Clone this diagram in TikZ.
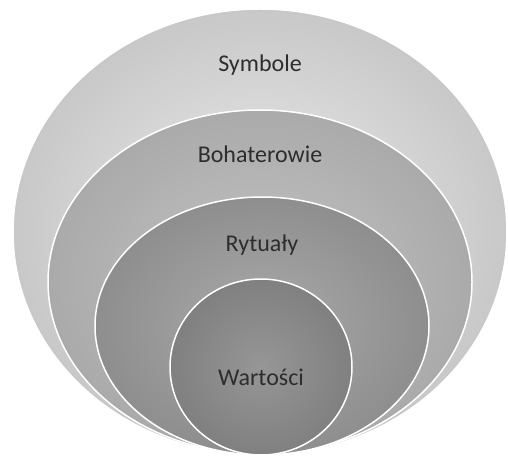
\documentclass[tikz,border=0pt]{standalone}
\usepackage{fontspec}
\setmainfont{Carlito}
\usetikzlibrary{shapes.geometric, positioning}
\definecolor{ringa}{RGB}{236, 236, 236}
\definecolor{ringadark}{RGB}{200, 200, 200}
\definecolor{ringb}{RGB}{196, 196, 196}
\definecolor{ringbdark}{RGB}{170, 170, 170}
\definecolor{ringc}{RGB}{170, 170, 170}
\definecolor{ringcdark}{RGB}{142, 142, 142}
\definecolor{ringd}{RGB}{150, 150, 150}
\definecolor{ringddark}{RGB}{128, 128, 128}
\definecolor{labelgray}{RGB}{45, 45, 45}
\tikzset{
  ring/.style    = {ellipse, draw=white, line width=1.5pt, inner sep=0pt, shading=radial},
  ringlbl/.style = {font=\fontsize{24}{28}\selectfont, text=labelgray, inner sep=0pt},
}

\begin{document}
\begin{tikzpicture}[x=1pt, y=1pt]

\useasboundingbox (0,0) rectangle (508,458);

% warstwy od zewnatrz do srodka
\node[ring, inner color=ringa, outer color=ringadark, minimum width=494, minimum height=446] (symbole) at (260,226) {};
\node[ring, inner color=ringb, outer color=ringbdark, minimum width=424, minimum height=344] (bohaterowie) at (260,176) {};
\node[ring, inner color=ringc, outer color=ringcdark, minimum width=334, minimum height=258] (rytualy) at (262,132) {};
\node[ring, inner color=ringd, outer color=ringddark, minimum width=182, minimum height=176] (wartosci) at (261,91) {};

% podpisy
\node[ringlbl] (lsym) at (260,393) {Symbole};
\node[ringlbl] (lboh) at (260,304) {Bohaterowie};
\node[ringlbl] (lryt) at (262,213) {Rytuały};
\node[ringlbl] (lwar) at (261,81) {Wartości};

\end{tikzpicture}
\end{document}
